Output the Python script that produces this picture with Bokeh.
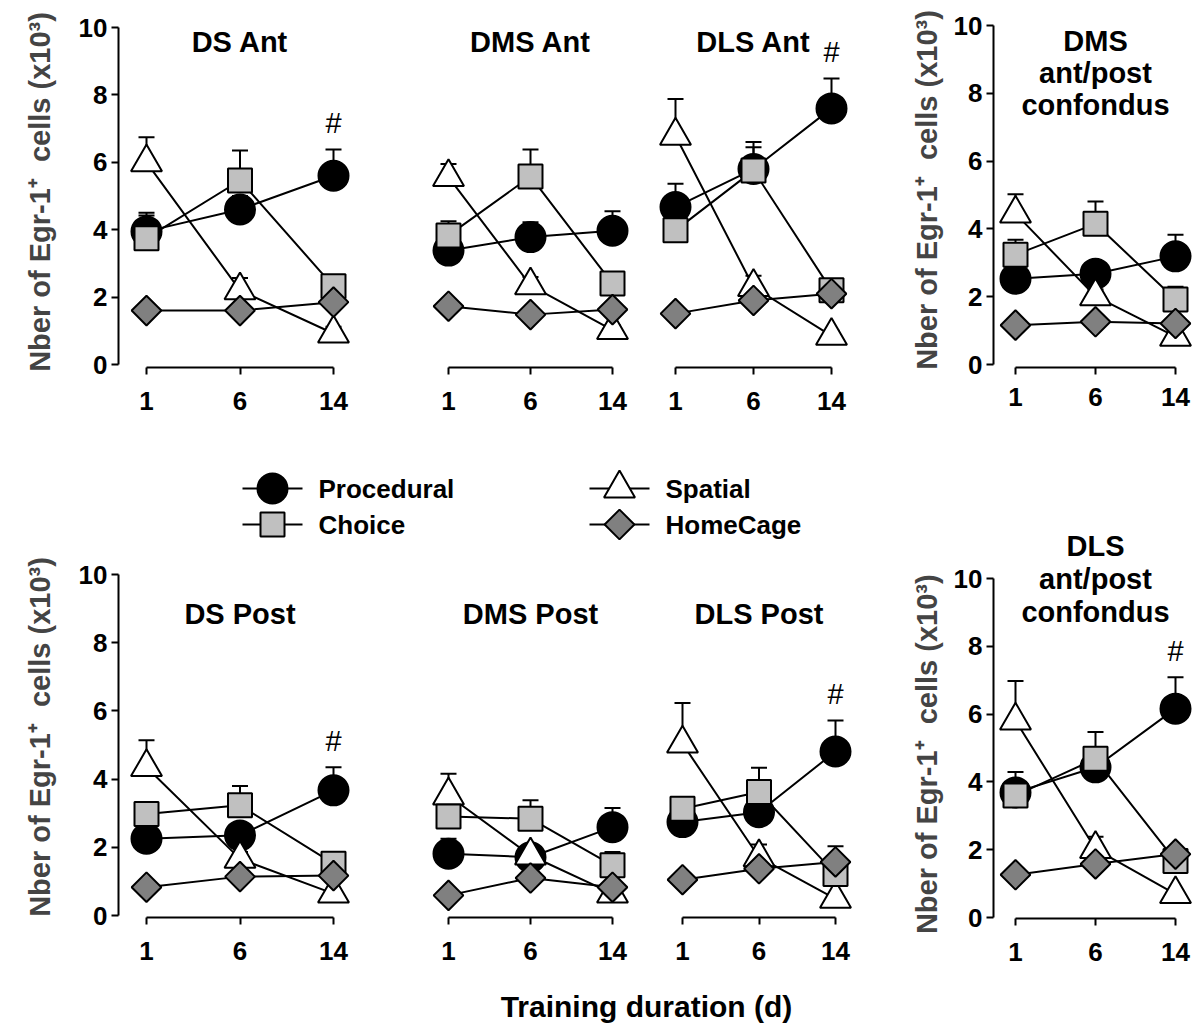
import numpy as np
from bokeh.plotting import figure
from bokeh.models import ColumnDataSource, Whisker, TeeHead, Label, FixedTicker, Range1d
from bokeh.layouts import row, column
from bokeh.embed import file_html
from bokeh.resources import INLINE
from bokeh.core.properties import value

# ---------------- data ----------------
days = ["1", "6", "14"]
series_names = ["Procedural", "Choice", "Spatial", "HomeCage"]
y_ticks = [0, 2, 4, 6, 8, 10]
y_label = "Nber of Egr-1\u207a\u00a0 cells (x10\u00b3)"
x_label = "Training duration (d)"

# rows: Procedural, Choice, Spatial, HomeCage ; columns: days 1, 6, 14
ds_ant_means = [[3.95, 4.60, 5.60], [3.75, 5.46, 2.32], [6.00, 2.20, 0.92], [1.60, 1.60, 1.85]]
ds_ant_sems = [[0.55, 0.40, 0.78], [0.67, 0.89, 0.20], [0.74, 0.37, 0.20], [0.15, 0.15, 0.20]]
ds_ant_sig = [0, 0, 1]

dms_ant_means = [[3.38, 3.78, 3.97], [3.83, 5.58, 2.40], [5.56, 2.35, 1.02], [1.73, 1.48, 1.63]]
dms_ant_sems = [[0.30, 0.44, 0.58], [0.42, 0.80, 0.25], [0.39, 0.25, 0.15], [0.15, 0.15, 0.15]]
dms_ant_sig = [0, 0, 0]

dls_ant_means = [[4.67, 5.80, 7.60], [3.98, 5.76, 2.20], [6.79, 2.30, 0.85], [1.51, 1.90, 2.10]]
dls_ant_sems = [[0.69, 0.80, 0.89], [0.30, 0.69, 0.20], [1.09, 0.33, 0.15], [0.15, 0.15, 0.15]]
dls_ant_sig = [0, 0, 1]

dms_all_means = [[2.53, 2.68, 3.19], [3.24, 4.15, 1.92], [4.45, 2.01, 0.82], [1.16, 1.26, 1.21]]
dms_all_sems = [[0.25, 0.30, 0.64], [0.44, 0.66, 0.37], [0.57, 0.20, 0.15], [0.10, 0.10, 0.10]]
dms_all_sig = [0, 0, 0]

ds_post_means = [[2.25, 2.35, 3.67], [2.98, 3.23, 1.52], [4.35, 1.66, 0.64], [0.83, 1.14, 1.17]]
ds_post_sems = [[0.25, 0.30, 0.68], [0.30, 0.57, 0.20], [0.79, 0.20, 0.10], [0.10, 0.10, 0.10]]
ds_post_sig = [0, 0, 1]

dms_post_means = [[1.81, 1.71, 2.59], [2.90, 2.84, 1.47], [3.52, 1.76, 0.64], [0.59, 1.10, 0.83]]
dms_post_sems = [[0.44, 0.20, 0.56], [0.30, 0.54, 0.39], [0.64, 0.20, 0.10], [0.10, 0.10, 0.10]]
dms_post_sig = [0, 0, 0]

dls_post_means = [[2.74, 3.03, 4.81], [3.13, 3.62, 1.22], [5.04, 1.71, 0.49], [1.05, 1.37, 1.57]]
dls_post_sems = [[0.25, 0.30, 0.91], [0.30, 0.71, 0.30], [1.19, 0.37, 0.10], [0.10, 0.10, 0.46]]
dls_post_sig = [0, 0, 1]

dls_all_means = [[3.69, 4.43, 6.16], [3.60, 4.68, 1.67], [5.81, 2.02, 0.69], [1.26, 1.58, 1.87]]
dls_all_sems = [[0.60, 0.40, 0.93], [0.45, 0.79, 0.30], [1.17, 0.36, 0.10], [0.10, 0.10, 0.10]]
dls_all_sig = [0, 0, 1]

# ---------------- styles ----------------
FONT = "Liberation Sans"
YLAB_SIZE = "29px"
STYLE = {
    "Procedural": dict(marker="circle", size=30, fill_color="black", angle=0.0),
    "Choice": dict(marker="square", size=24, fill_color="#c0c0c0", angle=0.0),
    "Spatial": dict(marker="triangle", size=31, fill_color="white", angle=0.0),
    "HomeCage": dict(marker="square", size=21, fill_color="#808080", angle=np.pi / 4),
}
DRAW_ORDER = ["Procedural", "Spatial", "Choice", "HomeCage"]


def blank(w, h):
    f = figure(width=w, height=h, x_range=Range1d(0, w), y_range=Range1d(0, h),
               min_border=0, toolbar_location=None, output_backend="svg", tools="",
               x_axis_location=None, y_axis_location=None)
    f.outline_line_color = None
    f.grid.grid_line_color = None
    return f


def panel(means, sems, sig, title_lines, title_y, title_step, g, with_y,
          ylab_standoff=20, xlab_standoff=17, ylab_pad=0):
    xr = Range1d(-g["x0"] / g["dx"], (g["fw"] - g["x0"]) / g["dx"])
    yr = Range1d(-g["y0"] / g["dy"], (g["fh"] - g["y0"]) / g["dy"])
    p = figure(frame_width=g["fw"], frame_height=g["fh"], x_range=xr, y_range=yr,
               min_border_left=g["bl"], min_border_right=g["br"],
               min_border_top=g["bt"], min_border_bottom=g["bb"],
               toolbar_location=None, output_backend="svg", tools="",
               y_axis_location="left" if with_y else None)
    p.outline_line_color = None
    p.grid.grid_line_color = None

    xs = list(range(len(days)))
    p.xaxis.ticker = FixedTicker(ticks=xs)
    p.xaxis.major_label_overrides = {i: d for i, d in enumerate(days)}
    p.xaxis.bounds = (0, len(days) - 1)
    p.xaxis.major_label_standoff = xlab_standoff
    if with_y:
        p.yaxis.ticker = FixedTicker(ticks=y_ticks)
        p.yaxis.bounds = (y_ticks[0], y_ticks[-1])
        # trailing no-break spaces only shift the centred label along the axis
        p.yaxis.axis_label = y_label + "\u00a0" * ylab_pad
        p.yaxis.axis_label_standoff = ylab_standoff
        p.yaxis.axis_label_text_font = FONT
        p.yaxis.axis_label_text_font_style = "bold"
        p.yaxis.axis_label_text_font_size = YLAB_SIZE
        p.yaxis.major_label_standoff = 4
    for ax in p.axis:
        ax.axis_line_width = 2
        ax.axis_line_color = "black"
        ax.major_tick_line_width = 2
        ax.major_tick_line_color = "black"
        ax.major_tick_in = 0
        ax.major_tick_out = 7
        ax.minor_tick_line_color = None
        ax.major_label_text_font = FONT
        ax.major_label_text_font_style = "bold"
        ax.major_label_text_font_size = "26px"
        ax.major_label_text_color = "black"

    for name in DRAW_ORDER:
        i = series_names.index(name)
        p.line(xs, means[i], line_width=2, line_color="black")

    bx, bu, bl = [], [], []
    for i in range(len(series_names)):
        for j in xs:
            bx.append(j)
            bl.append(means[i][j])
            bu.append(means[i][j] + sems[i][j])
    esrc = ColumnDataSource(dict(x=bx, upper=bu, lower=bl))
    p.add_layout(Whisker(source=esrc, base="x", upper="upper", lower="lower",
                         dimension="height", line_width=2, line_color="black",
                         upper_head=TeeHead(size=16, line_width=2, line_color="black"),
                         lower_head=None))

    for name in DRAW_ORDER:
        i = series_names.index(name)
        st = STYLE[name]
        p.scatter(xs, means[i], marker=st["marker"], size=st["size"],
                  fill_color=st["fill_color"], line_color="black", line_width=2,
                  angle=st["angle"])

    sx = [j for j in xs if sig[j]]
    sy = [means[0][j] + sems[0][j] + 0.78 for j in sx]
    if sx:
        p.text(sx, sy, text=["#"] * len(sx), text_align="center", text_baseline="middle",
               text_font=value(FONT), text_font_size="29px", text_color="black")

    for k, line in enumerate(title_lines):
        p.add_layout(Label(x=1, y=title_y, y_offset=-title_step * k, text=line,
                           text_align="center", text_baseline="middle",
                           text_font=FONT, text_font_style="bold",
                           text_font_size="29px", text_color="black"))
    return p


GA = dict(fw=262, fh=351, bl=118, br=5, bt=16, bb=63, x0=28, dx=93.5, y0=3, dy=33.7)
GB = dict(fw=255, fh=351, bl=0, br=0, bt=16, bb=63, x0=63, dx=82, y0=3, dy=33.7)
GC = dict(fw=230, fh=351, bl=0, br=0, bt=16, bb=63, x0=35, dx=78, y0=3, dy=33.7)
GD = dict(fw=202, fh=355, bl=123, br=0, bt=12, bb=83, x0=22, dx=80, y0=3, dy=33.9)
GE = dict(fw=262, fh=361, bl=118, br=5, bt=8, bb=58, x0=28, dx=93.5, y0=2, dy=34.1)
GF = dict(fw=255, fh=361, bl=0, br=0, bt=8, bb=58, x0=63, dx=82, y0=2, dy=34.1)
GG = dict(fw=230, fh=361, bl=0, br=0, bt=8, bb=58, x0=42, dx=76.5, y0=2, dy=34.1)
GH = dict(fw=202, fh=393, bl=123, br=0, bt=75, bb=57, x0=22, dx=80, y0=1, dy=33.9)

pA = panel(ds_ant_means, ds_ant_sems, ds_ant_sig, ["DS Ant"], 9.58, 0, GA, True)
pB = panel(dms_ant_means, dms_ant_sems, dms_ant_sig, ["DMS Ant"], 9.58, 0, GB, False)
pC = panel(dls_ant_means, dls_ant_sems, dls_ant_sig, ["DLS Ant"], 9.58, 0, GC, False)
pD = panel(dms_all_means, dms_all_sems, dms_all_sig, ["DMS", "ant/post", "confondus"],
           9.53, 32, GD, True, ylab_standoff=8, xlab_standoff=13)
pE = panel(ds_post_means, ds_post_sems, ds_post_sig, ["DS Post"], 8.83, 0, GE, True)
pF = panel(dms_post_means, dms_post_sems, dms_post_sig, ["DMS Post"], 8.83, 0, GF, False)
pG = panel(dls_post_means, dls_post_sems, dls_post_sig, ["DLS Post"], 8.83, 0, GG, False)
pH = panel(dls_all_means, dls_all_sems, dls_all_sig, ["DLS", "ant/post", "confondus"],
           10.97, 33, GH, True, ylab_standoff=8, ylab_pad=8)

# ---------------- legend ----------------
leg = blank(870, 118)
for i, name in enumerate(series_names):
    col, rw = i // 2, i % 2
    cx = 272 + col * 347
    cy = 60 - rw * 36
    st = STYLE[name]
    leg.line([cx - 30, cx + 30], [cy, cy], line_width=2, line_color="black")
    leg.scatter([cx], [cy], marker=st["marker"], size=st["size"], fill_color=st["fill_color"],
                line_color="black", line_width=2, angle=st["angle"])
    leg.text([cx + 46], [cy], text=[name], text_align="left", text_baseline="middle",
             text_font=value(FONT), text_font_style="bold", text_font_size="26px",
             text_color="black")

# ---------------- x label ----------------
xl = blank(1195, 50)
xl.add_layout(Label(x=646, y=19, text=x_label, text_align="center", text_baseline="middle",
                    text_font=FONT, text_font_style="bold", text_font_size="30px",
                    text_color="black"))

left = column(row(pA, pB, pC), leg, row(pE, pF, pG))
right = column(pD, pH)
layout = column(row(left, right), xl)

open("out.html", "w").write(file_html(layout, INLINE))
